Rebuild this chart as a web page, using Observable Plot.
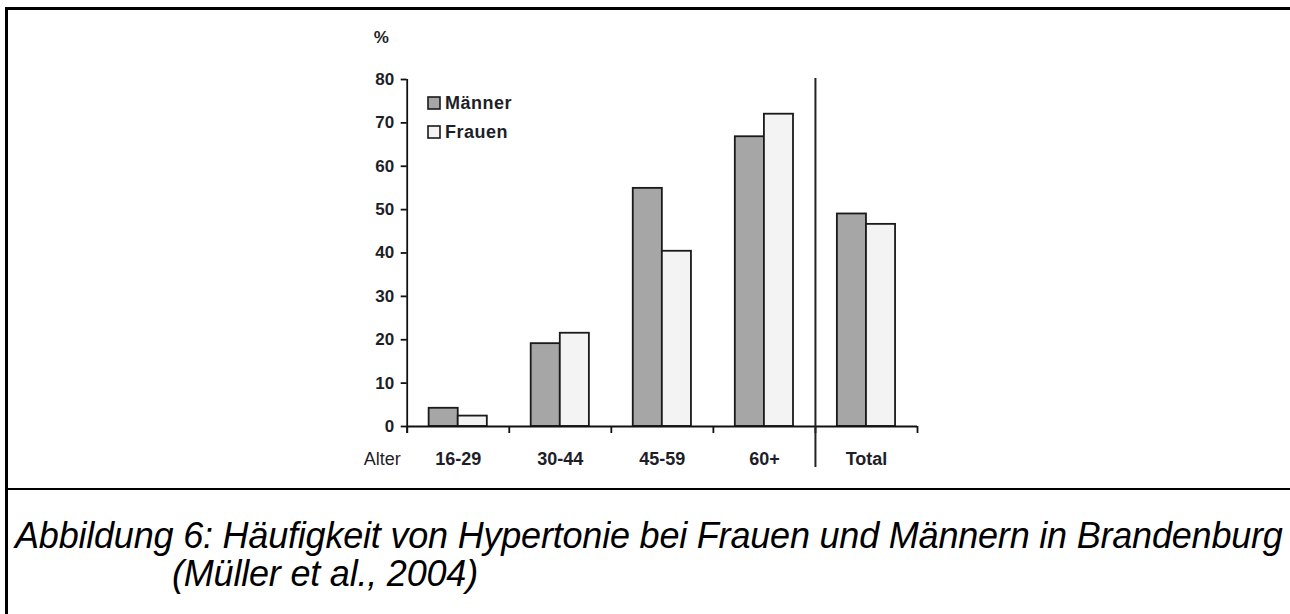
<!DOCTYPE html>
<html>
<head>
<meta charset="utf-8">
<script src="https://cdn.jsdelivr.net/npm/d3@7"></script>
<script src="https://cdn.jsdelivr.net/npm/@observablehq/plot@0.6"></script>
<style>
  html, body { margin: 0; padding: 0; background: #fff; }
  body { width: 1290px; height: 614px; position: relative; overflow: hidden; }
  #chart { position: absolute; left: 0; top: 0; }
  #legend { position: absolute; left: 428px; top: 88.5px; }
  #legend .lg-swatch { height: 29px; padding-bottom: 0; margin: 0; display: flex; align-items: center; }
  #legend .lg-swatches { margin: 0; }
  #legend svg { margin-right: 5px !important; overflow: visible; }
  #legend svg rect { stroke: #1a1a1a; stroke-width: 1.6px; }
  #legend, #legend div { font: bold 18px "Liberation Sans", Arial, sans-serif; color: #1e1e28; letter-spacing: 0.5px; }
  .border-top { position: absolute; left: 5px; top: 7px; width: 1285px; height: 3px; background: #000; }
  .border-left { position: absolute; left: 5px; top: 7px; width: 3px; height: 607px; background: #000; }
  .border-mid { position: absolute; left: 5px; top: 488px; width: 1285px; height: 2px; background: #000; }
  .cap { position: absolute; white-space: nowrap; font: italic 36px/38px "Liberation Sans", Arial, sans-serif; color: #000; letter-spacing: -0.2px; }
  #cap1 { left: 15px; top: 516.5px; }
  #cap2 { left: 172px; top: 554.5px; }
</style>
</head>
<body>
<div id="chart"></div>
<div id="legend"></div>
<div class="border-top"></div>
<div class="border-left"></div>
<div class="border-mid"></div>
<div class="cap" id="cap1">Abbildung 6: Häufigkeit von Hypertonie bei Frauen und Männern in Brandenburg</div>
<div class="cap" id="cap2">(Müller et al., 2004)</div>
<script>
const categories = ["16-29", "30-44", "45-59", "60+", "Total"];
const series = ["Männer", "Frauen"];
const maenner = [4.2, 19.1, 54.9, 66.8, 49.0];
const frauen = [2.4, 21.5, 40.4, 72.0, 46.6];
const yTicks = [0, 10, 20, 30, 40, 50, 60, 70, 80];
const colors = ["#a6a6a6", "#f3f3f3"];
const xLabel = "Alter";
const yLabel = "%";

const values = [maenner, frauen];
const data = [];
categories.forEach((c, i) => {
  series.forEach((s, j) => data.push({i, category: c, sex: s, value: values[j][i]}));
});

// bars within each category slot
const inner = d3.scaleBand().domain(series).range([0, 1]).paddingInner(0).paddingOuter(0.754);
const bounds = d3.range(categories.length + 1);
const centers = categories.map((c, i) => i + 0.5);
const textColor = "#1e1e28";

const plot = Plot.plot({
  width: 1000,
  height: 480,
  marginLeft: 406.7,
  marginRight: 83,
  marginTop: 79,
  marginBottom: 54,
  style: {fontFamily: "'Liberation Sans', Arial, sans-serif", color: textColor, background: "transparent"},
  x: {type: "linear", domain: [0, categories.length], axis: null},
  y: {domain: [0, 80], axis: null},
  color: {domain: series, range: colors},
  marks: [
    Plot.rectY(data, {
      x1: d => d.i + inner(d.sex),
      x2: d => d.i + inner(d.sex) + inner.bandwidth(),
      y1: 0,
      y2: "value",
      fill: "sex",
      stroke: "#1a1a1a",
      strokeWidth: 1.8
    }),
    Plot.axisY({ticks: yTicks, tickSize: 6, tickPadding: 7, fontSize: 17, fontWeight: "bold", stroke: "#111", strokeWidth: 1.8, label: null}),
    Plot.ruleX([0], {y1: 80, y2: 0, stroke: "#111", strokeWidth: 1.8, insetBottom: -7}),
    Plot.ruleY([0], {stroke: "#111", strokeWidth: 1.8}),
    Plot.axisX({ticks: bounds, tickSize: 7, tickFormat: () => "", stroke: "#111", strokeWidth: 1.8, label: null}),
    Plot.axisX({ticks: centers, tickSize: 0, tickPadding: 26, tickFormat: v => categories[Math.floor(v)], fontSize: 18, fontWeight: "bold", label: null}),
    Plot.ruleX([categories.length - 1], {y1: 80, y2: 0, stroke: "#222", strokeWidth: 2, insetTop: -1, insetBottom: -41}),
    Plot.text([yLabel], {frameAnchor: "top-left", dx: -26, dy: -42, textAnchor: "middle", lineAnchor: "middle", fontSize: 17, fontWeight: "bold", fill: textColor}),
    Plot.text([xLabel], {frameAnchor: "bottom-left", dx: -25, dy: 33, textAnchor: "middle", lineAnchor: "middle", fontSize: 18, fill: textColor})
  ]
});
document.getElementById("chart").appendChild(plot);

const legend = plot.legend("color", {legend: "swatches", columns: 1, swatchSize: 12, swatchWidth: 12, swatchHeight: 12, className: "lg"});
document.getElementById("legend").appendChild(legend);
</script>
</body>
</html>
